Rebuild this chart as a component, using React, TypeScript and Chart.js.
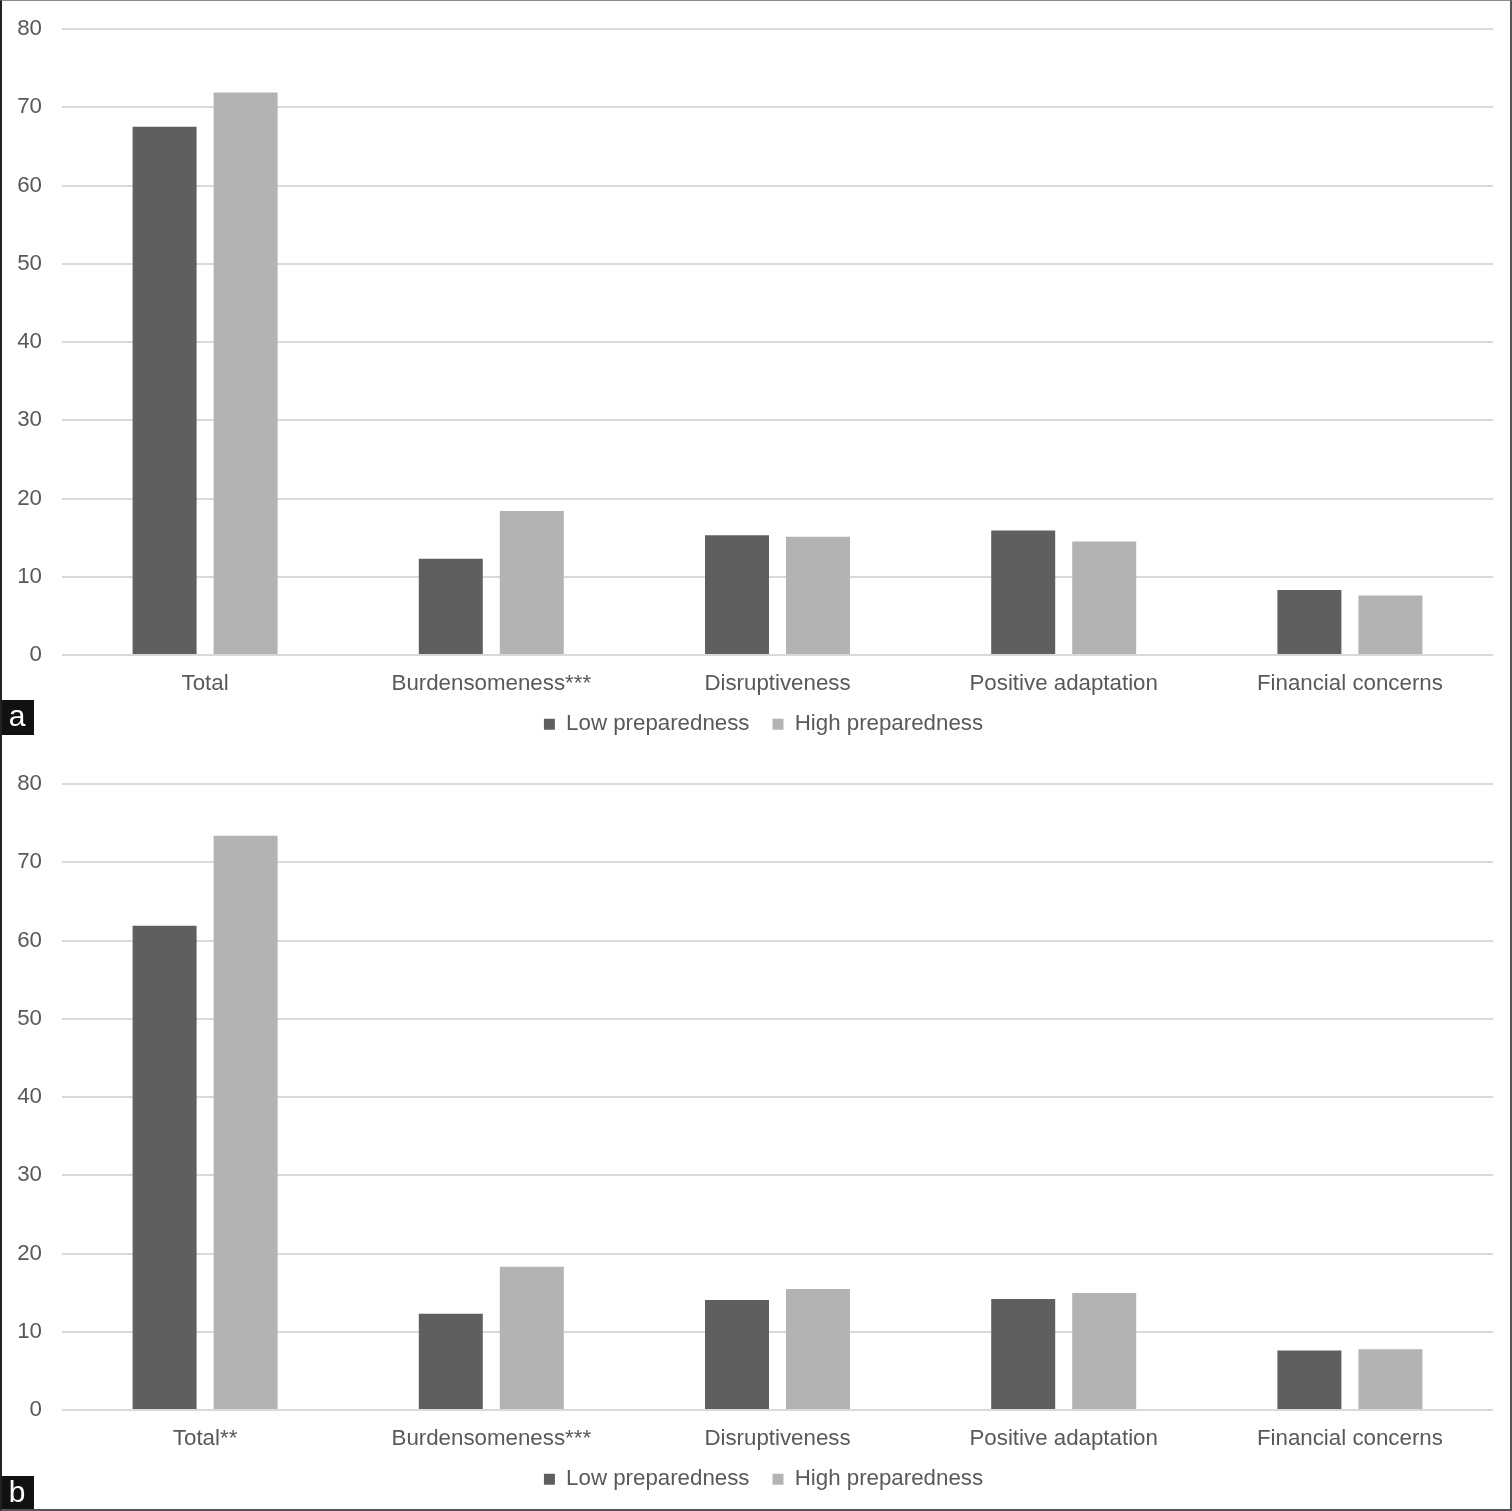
import React, { useEffect, useRef } from "react";
import { Chart, registerables } from "chart.js";

Chart.register(...registerables);

const categoriesA = ["Total", "Burdensomeness***", "Disruptiveness", "Positive adaptation", "Financial concerns"];
const categoriesB = ["Total**", "Burdensomeness***", "Disruptiveness", "Positive adaptation", "Financial concerns"];
const lowA = [67.5, 12.3, 15.3, 15.9, 8.3];
const highA = [71.9, 18.4, 15.1, 14.5, 7.6];
const lowB = [61.9, 12.3, 14.05, 14.2, 7.6];
const highB = [73.4, 18.3, 15.45, 14.95, 7.75];
const seriesNames = ["Low preparedness", "High preparedness"];
const yTicks = [0, 10, 20, 30, 40, 50, 60, 70, 80];

const DARK = "#5f5f5f";
const LIGHT = "#b3b3b3";
const TEXT = "#595959";
const GRID = "#d9d9d9";
const FONT = "'Liberation Sans', Arial, sans-serif";
const FS = 22.3;

function makeConfig(categories: string[], low: number[], high: number[]): any {
  return {
    type: "bar",
    data: {
      labels: categories,
      datasets: [
        { label: seriesNames[0], data: low, backgroundColor: DARK, categoryPercentage: 0.566, barPercentage: 0.79 },
        { label: seriesNames[1], data: high, backgroundColor: LIGHT, categoryPercentage: 0.566, barPercentage: 0.79 },
      ],
    },
    options: {
      responsive: false,
      animation: false,
      layout: { padding: { top: 29, right: 19, bottom: 9.7, left: 34 } },
      plugins: {
        tooltip: { enabled: false },
        legend: {
          position: "bottom",
          labels: {
            color: TEXT,
            font: { family: FONT, size: FS },
            boxWidth: 11,
            boxHeight: 11,
            padding: 23,
          },
        },
      },
      scales: {
        x: {
          grid: { display: false },
          border: { display: false },
          ticks: { color: TEXT, font: { family: FONT, size: FS }, padding: 7, maxRotation: 0 },
          afterFit: (s: any) => {
            s.height = 35;
            s._computeLabelArea = () => undefined;
          },
        },
        y: {
          min: 0,
          max: 80,
          afterBuildTicks: (s: any) => { s.ticks = yTicks.map((v) => ({ value: v })); },
          grid: { color: GRID, lineWidth: 2, drawTicks: false },
          border: { display: false },
          ticks: { color: TEXT, font: { family: FONT, size: FS }, padding: 20 },
          afterFit: (s: any) => {
            s.width = 28;
            s.paddingTop = 0;
            s.paddingBottom = 0;
            s._computeLabelArea = () => undefined;
          },
        },
      },
    },
  };
}

function Panel({ categories, low, high }: { categories: string[]; low: number[]; high: number[] }) {
  const ref = useRef<HTMLCanvasElement | null>(null);
  useEffect(() => {
    if (!ref.current) return;
    const chart = new Chart(ref.current, makeConfig(categories, low, high));
    return () => chart.destroy();
  }, []);
  return <canvas ref={ref} width={1512} height={755} style={{ display: "block", width: 1512, height: 755 }} />;
}

const tagStyle: React.CSSProperties = {
  position: "absolute",
  left: 0,
  width: 34,
  height: 35,
  background: "#111",
  color: "#fff",
  fontFamily: FONT,
  fontSize: 30,
  lineHeight: "32px",
  textAlign: "center",
};

export default function App() {
  useEffect(() => {
    document.body.style.margin = "0";
  }, []);
  return (
    <div style={{ position: "relative", width: 1512, height: 1511, background: "#fff", overflow: "hidden" }}>
      <div style={{ position: "absolute", top: 0, left: 0 }}>
        <Panel categories={categoriesA} low={lowA} high={highA} />
      </div>
      <div style={{ position: "absolute", top: 755, left: 0 }}>
        <Panel categories={categoriesB} low={lowB} high={highB} />
      </div>
      <div style={{ ...tagStyle, top: 700 }}>a</div>
      <div style={{ ...tagStyle, top: 1476 }}>b</div>
      <div
        style={{
          position: "absolute",
          inset: 0,
          borderTop: "1px solid #8a8a8a",
          borderRight: "2px solid #555",
          borderBottom: "2px solid #555",
          borderLeft: "2px solid #222",
          boxSizing: "border-box",
          pointerEvents: "none",
        }}
      />
    </div>
  );
}
